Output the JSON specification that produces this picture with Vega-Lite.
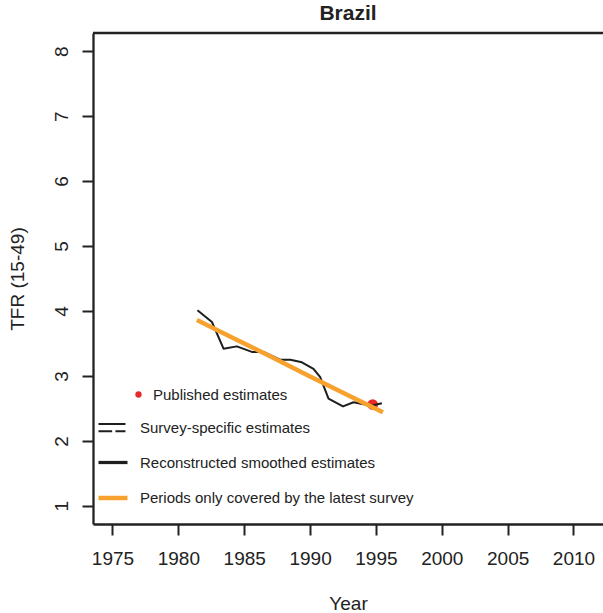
{
  "$schema": "https://vega.github.io/schema/vega-lite/v6.json",
  "width": 510,
  "height": 491,
  "autosize": {"type": "none"},
  "padding": {"left": 93, "top": 33, "right": 0, "bottom": 89},
  "background": "white",
  "title": {"text": "Brazil", "font": "Liberation Sans", "fontSize": 21, "fontWeight": "bold", "color": "#222222", "anchor": "middle", "baseline": "alphabetic", "offset": 14, "dy": 23},
  "datasets": {
    "survey": [
      {"year": 1981.45, "tfr": 4.01, "series": "Survey-specific estimates"},
      {"year": 1982.55, "tfr": 3.83, "series": "Survey-specific estimates"},
      {"year": 1983.43, "tfr": 3.42, "series": "Survey-specific estimates"},
      {"year": 1984.44, "tfr": 3.455, "series": "Survey-specific estimates"},
      {"year": 1985.58, "tfr": 3.37, "series": "Survey-specific estimates"},
      {"year": 1986.47, "tfr": 3.37, "series": "Survey-specific estimates"},
      {"year": 1987.73, "tfr": 3.25, "series": "Survey-specific estimates"},
      {"year": 1988.5, "tfr": 3.25, "series": "Survey-specific estimates"},
      {"year": 1989.38, "tfr": 3.21, "series": "Survey-specific estimates"},
      {"year": 1990.26, "tfr": 3.11, "series": "Survey-specific estimates"},
      {"year": 1990.77, "tfr": 2.98, "series": "Survey-specific estimates"},
      {"year": 1991.4, "tfr": 2.65, "series": "Survey-specific estimates"},
      {"year": 1992.5, "tfr": 2.53, "series": "Survey-specific estimates"},
      {"year": 1993.3, "tfr": 2.595, "series": "Survey-specific estimates"},
      {"year": 1994.64, "tfr": 2.54, "series": "Survey-specific estimates"},
      {"year": 1995.45, "tfr": 2.58, "series": "Survey-specific estimates"}
    ],
    "latest": [
      {"year": 1981.41, "tfr": 3.86, "series": "Periods only covered by the latest survey"},
      {"year": 1984.0, "tfr": 3.6, "series": "Periods only covered by the latest survey"},
      {"year": 1987.0, "tfr": 3.3, "series": "Periods only covered by the latest survey"},
      {"year": 1990.0, "tfr": 2.99, "series": "Periods only covered by the latest survey"},
      {"year": 1993.0, "tfr": 2.69, "series": "Periods only covered by the latest survey"},
      {"year": 1995.53, "tfr": 2.44, "series": "Periods only covered by the latest survey"}
    ],
    "published": [
      {"year": 1994.75, "tfr": 2.56, "kind": "Published estimates"}
    ]
  },
  "layer": [
    {
      "data": {"values": [{}]},
      "mark": {"type": "rule", "color": "#222222", "strokeWidth": 2.3},
      "encoding": {
        "y": {"datum": 8.28, "type": "quantitative", "scale": {"domain": [0.72, 8.28], "nice": false, "zero": false},
              "axis": {"values": [1, 2, 3, 4, 5, 6, 7, 8], "title": "TFR (15-49)", "labelAngle": 270, "labelAlign": "center", "labelBaseline": "alphabetic", "labelPadding": 15, "titleAngle": 270, "titleX": -70, "titleY": 245.5, "titleBaseline": "alphabetic", "titleAlign": "center"}}
      }
    },
    {
      "data": {"name": "published"},
      "mark": {"type": "point", "filled": true, "color": "#e62a2a", "opacity": 1, "size": 115},
      "encoding": {
        "x": {"field": "year", "type": "quantitative", "scale": {"domain": [1973.52, 2012.24], "nice": false, "zero": false},
              "axis": {"values": [1975, 1980, 1985, 1990, 1995, 2000, 2005, 2010], "format": "d", "title": "Year", "titleX": 255, "titleY": 85, "titleBaseline": "alphabetic", "titleAlign": "center"}},
        "y": {"field": "tfr", "type": "quantitative",
              "axis": {"values": [1, 2, 3, 4, 5, 6, 7, 8], "title": "TFR (15-49)", "labelAngle": 270, "labelAlign": "center", "labelBaseline": "alphabetic", "labelPadding": 15, "titleAngle": 270, "titleX": -70, "titleY": 245.5, "titleBaseline": "alphabetic", "titleAlign": "center"}},
        "shape": {"field": "kind", "type": "nominal", "scale": {"range": ["circle"]},
                  "legend": {"orient": "none", "legendX": 38, "legendY": 354, "title": null, "symbolSize": 40, "symbolFillColor": "#e62a2a", "symbolStrokeWidth": 0, "labelOffset": 7, "labelFont": "Liberation Sans", "labelFontSize": 15, "labelColor": "#222222", "labelLimit": 400}}
      }
    },
    {
      "data": {"name": "survey"},
      "mark": {"type": "line", "strokeCap": "butt", "strokeJoin": "round"},
      "encoding": {
        "x": {"field": "year", "type": "quantitative",
              "axis": {"values": [1975, 1980, 1985, 1990, 1995, 2000, 2005, 2010], "format": "d", "title": "Year", "titleX": 255, "titleY": 85, "titleBaseline": "alphabetic", "titleAlign": "center"}},
        "y": {"field": "tfr", "type": "quantitative",
              "axis": {"values": [1, 2, 3, 4, 5, 6, 7, 8], "title": "TFR (15-49)", "labelAngle": 270, "labelAlign": "center", "labelBaseline": "alphabetic", "labelPadding": 15, "titleAngle": 270, "titleX": -70, "titleY": 245.5, "titleBaseline": "alphabetic", "titleAlign": "center"}},
        "color": {"field": "series", "type": "nominal",
                  "scale": {"domain": ["Survey-specific estimates", "Reconstructed smoothed estimates", "Periods only covered by the latest survey"], "range": ["#1e1e1e", "#1e1e1e", "#f7a22e"]},
                  "legend": {"orient": "none", "legendX": 3, "legendY": 379, "title": null, "symbolType": "stroke", "symbolSize": 841, "labelOffset": 10, "rowPadding": 10, "labelFont": "Liberation Sans", "labelFontSize": 15, "labelColor": "#222222", "labelLimit": 400,
                             "encode": {"symbols": {"update": {"shape": {"signal": "datum.value === 'Survey-specific estimates' ? 'M-1,-0.25H0.86M-1,0.25H-0.06M0.17,0.25H0.86' : 'stroke'"}}}}}},
        "strokeWidth": {"field": "series", "type": "nominal",
                  "scale": {"domain": ["Survey-specific estimates", "Reconstructed smoothed estimates", "Periods only covered by the latest survey"], "range": [2, 4.5, 5.5]},
                  "legend": {"orient": "none", "legendX": 3, "legendY": 379, "title": null, "symbolType": "stroke", "symbolSize": 841, "labelOffset": 10, "rowPadding": 10, "labelFont": "Liberation Sans", "labelFontSize": 15, "labelColor": "#222222", "labelLimit": 400,
                             "encode": {"symbols": {"update": {"shape": {"signal": "datum.value === 'Survey-specific estimates' ? 'M-1,-0.25H0.86M-1,0.25H-0.06M0.17,0.25H0.86' : 'stroke'"}}}}}}
      }
    },
    {
      "data": {"name": "latest"},
      "mark": {"type": "line", "strokeCap": "butt", "strokeJoin": "round"},
      "encoding": {
        "x": {"field": "year", "type": "quantitative",
              "axis": {"values": [1975, 1980, 1985, 1990, 1995, 2000, 2005, 2010], "format": "d", "title": "Year", "titleX": 255, "titleY": 85, "titleBaseline": "alphabetic", "titleAlign": "center"}},
        "y": {"field": "tfr", "type": "quantitative",
              "axis": {"values": [1, 2, 3, 4, 5, 6, 7, 8], "title": "TFR (15-49)", "labelAngle": 270, "labelAlign": "center", "labelBaseline": "alphabetic", "labelPadding": 15, "titleAngle": 270, "titleX": -70, "titleY": 245.5, "titleBaseline": "alphabetic", "titleAlign": "center"}},
        "color": {"field": "series", "type": "nominal",
                  "legend": {"orient": "none", "legendX": 3, "legendY": 379, "title": null, "symbolType": "stroke", "symbolSize": 841, "labelOffset": 10, "rowPadding": 10, "labelFont": "Liberation Sans", "labelFontSize": 15, "labelColor": "#222222", "labelLimit": 400,
                             "encode": {"symbols": {"update": {"shape": {"signal": "datum.value === 'Survey-specific estimates' ? 'M-1,-0.25H0.86M-1,0.25H-0.06M0.17,0.25H0.86' : 'stroke'"}}}}}},
        "strokeWidth": {"field": "series", "type": "nominal",
                  "legend": {"orient": "none", "legendX": 3, "legendY": 379, "title": null, "symbolType": "stroke", "symbolSize": 841, "labelOffset": 10, "rowPadding": 10, "labelFont": "Liberation Sans", "labelFontSize": 15, "labelColor": "#222222", "labelLimit": 400,
                             "encode": {"symbols": {"update": {"shape": {"signal": "datum.value === 'Survey-specific estimates' ? 'M-1,-0.25H0.86M-1,0.25H-0.06M0.17,0.25H0.86' : 'stroke'"}}}}}}
      }
    }
  ],
  "config": {
    "view": {"stroke": null},
    "axis": {
      "grid": false,
      "domainColor": "#222222",
      "domainWidth": 2.3,
      "tickColor": "#222222",
      "tickWidth": 2,
      "tickSize": 11,
      "labelFont": "Liberation Sans",
      "labelFontSize": 19,
      "labelColor": "#222222",
      "labelFlush": false,
      "labelOverlap": false,
      "titleFont": "Liberation Sans",
      "titleFontSize": 19,
      "titleFontWeight": "normal",
      "titleColor": "#222222"
    },
    "axisX": {"labelPadding": 14},
    "legend": {"padding": 0}
  }
}
